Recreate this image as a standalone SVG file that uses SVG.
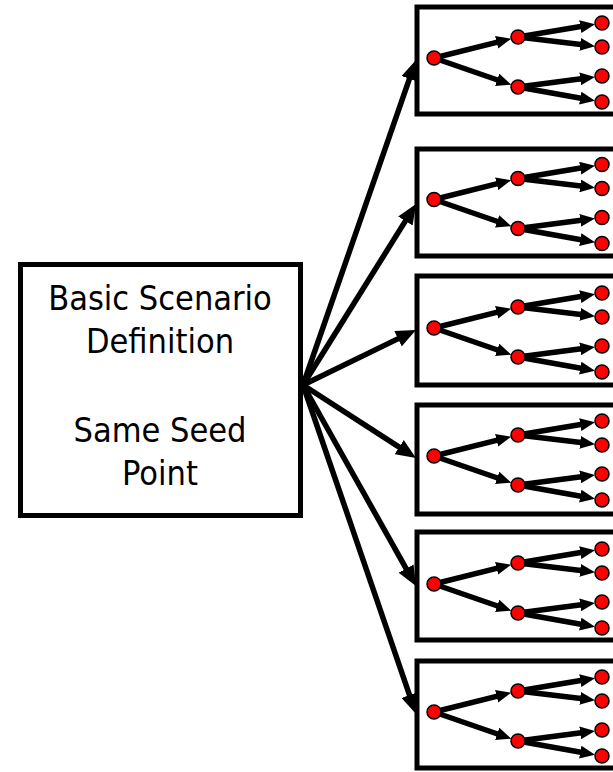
<svg xmlns="http://www.w3.org/2000/svg" xmlns:xlink="http://www.w3.org/1999/xlink" width="613" height="772" viewBox="0 0 613 772">
  <style>
    .frame { fill: #ffffff; stroke: #000000; stroke-width: 5; }
    .label { font-family: "DejaVu Sans Condensed", "DejaVu Sans", sans-serif; font-size: 34px; fill: #000000; text-anchor: middle; }
    .fan { fill: none; stroke: #000000; stroke-width: 5.5; marker-end: url(#bigHead); }
    .branch { fill: none; stroke: #000000; stroke-width: 5.5; marker-end: url(#smallHead); }
    .dot { fill: #ff0000; stroke: #000000; stroke-width: 1.5; }
  </style>
  <defs>
    <marker id="bigHead" markerUnits="userSpaceOnUse" markerWidth="20" markerHeight="17" refX="6" refY="8.5" orient="auto">
      <path d="M0,0 L20,8.5 L0,17 z" fill="#000000"/>
    </marker>
    <marker id="smallHead" markerUnits="userSpaceOnUse" markerWidth="15" markerHeight="13" refX="5" refY="6.5" orient="auto">
      <path d="M0,0 L15,6.5 L0,13 z" fill="#000000"/>
    </marker>
    <!-- binary tree drawn inside each run box, relative to the box top -->
    <g id="tree">
      <path class="branch" d="M434,51 L501.5,34.1"/>
      <path class="branch" d="M434,51 L501.9,74.5"/>
      <path class="branch" d="M518,30 L585.2,18.8"/>
      <path class="branch" d="M518,30 L585.1,38.0"/>
      <path class="branch" d="M518,80 L585.1,71.2"/>
      <path class="branch" d="M518,80 L585.2,92.0"/>
      <circle class="dot" cx="434" cy="51" r="7"/>
      <circle class="dot" cx="518" cy="30" r="7"/>
      <circle class="dot" cx="518" cy="80" r="7"/>
      <circle class="dot" cx="602" cy="16" r="7"/>
      <circle class="dot" cx="602" cy="40" r="7"/>
      <circle class="dot" cx="602" cy="69" r="7"/>
      <circle class="dot" cx="602" cy="95" r="7"/>
    </g>
  </defs>

  <rect x="0" y="0" width="613" height="772" fill="#ffffff"/>

  <!-- source node -->
  <g id="scenario">
    <rect class="frame" x="20.5" y="264.5" width="280" height="251"/>
    <text class="label" x="160" y="310">Basic Scenario</text>
    <text class="label" x="160" y="353">Definition</text>
    <text class="label" x="160" y="442">Same Seed</text>
    <text class="label" x="160" y="485">Point</text>
  </g>

  <!-- fan-out connectors -->
  <g id="connectors">
    <path class="fan" d="M303,385 L411.4,73.2"/>
    <path class="fan" d="M303,385 L408.6,215.9"/>
    <path class="fan" d="M303,385 L403.4,336.1"/>
    <path class="fan" d="M303,385 L404.2,450.4"/>
    <path class="fan" d="M303,385 L409.1,573.8"/>
    <path class="fan" d="M303,385 L411.5,700.8"/>
  </g>

  <!-- run nodes -->
  <g id="run1">
    <rect class="frame" x="417" y="7" width="230" height="107"/>
    <use xlink:href="#tree" transform="translate(0,7)"/>
  </g>
  <g id="run2">
    <rect class="frame" x="417" y="149" width="230" height="107"/>
    <use xlink:href="#tree" transform="translate(0,148.5)"/>
  </g>
  <g id="run3">
    <rect class="frame" x="417" y="276" width="230" height="109"/>
    <use xlink:href="#tree" transform="translate(0,277)"/>
  </g>
  <g id="run4">
    <rect class="frame" x="417" y="405" width="230" height="109"/>
    <use xlink:href="#tree" transform="translate(0,405)"/>
  </g>
  <g id="run5">
    <rect class="frame" x="417" y="532" width="230" height="108"/>
    <use xlink:href="#tree" transform="translate(0,533)"/>
  </g>
  <g id="run6">
    <rect class="frame" x="417" y="661" width="230" height="107"/>
    <use xlink:href="#tree" transform="translate(0,661)"/>
  </g>
</svg>
